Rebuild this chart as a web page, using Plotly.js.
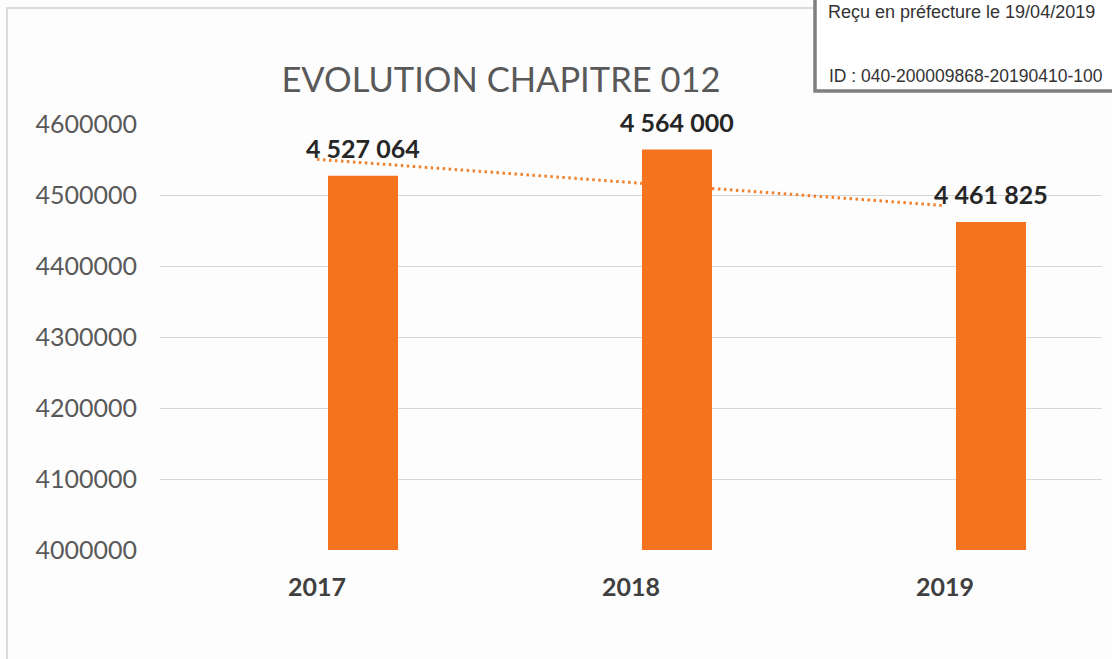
<!DOCTYPE html>
<html>
<head>
<meta charset="utf-8">
<script src="https://cdn.plot.ly/plotly-3.0.1.min.js"></script>
<style>
  html, body { margin: 0; padding: 0; background: #fdfdfd; }
  #chart { width: 1112px; height: 659px; }
</style>
</head>
<body>
<div id="chart"></div>
<script>
// ---- data ----
const years = ["2017", "2018", "2019"];
const amounts = [4527064, 4564000, 4461825];
const yTicks = [4000000, 4100000, 4200000, 4300000, 4400000, 4500000, 4600000];
const chartTitle = "EVOLUTION CHAPITRE 012";
const stampLine1 = "Reçu en préfecture le 19/04/2019";
const stampLine2 = "ID : 040-200009868-20190410-100";

// linear trend (least squares) computed from the amounts
const n = amounts.length;
const xs = amounts.map((_, i) => i);
const mx = xs.reduce((a, b) => a + b, 0) / n;
const my = amounts.reduce((a, b) => a + b, 0) / n;
let sxy = 0, sxx = 0;
xs.forEach((x, i) => { sxy += (x - mx) * (amounts[i] - my); sxx += (x - mx) * (x - mx); });
const slope = sxy / sxx;
const trend = xs.map(x => my + slope * (x - mx));

const fmt = v => String(v).replace(/\B(?=(\d{3})+(?!\d))/g, " ");

const orange = "#f4731f";
const baseFont = "Lato, 'Open Sans', sans-serif";
const yRange = [4000000, 4600000];

const trendTrace = {
  type: "scatter", mode: "lines",
  x: years, y: trend,
  xaxis: "x", yaxis: "y",
  line: { color: "#f0822e", width: 3, dash: "2.5px,3.5px" },
  hoverinfo: "skip", showlegend: false
};

const barTrace = {
  type: "bar",
  x: years, y: amounts,
  xaxis: "x2", yaxis: "y2",
  base: 0,
  offset: 0.035, width: 0.223,
  marker: { color: orange, line: { width: 0 } },
  showlegend: false, hoverinfo: "skip"
};

const labelAnns = years.map((yr, i) => ({
  x: i, y: amounts[i], xref: "x", yref: "y",
  text: fmt(amounts[i]),
  showarrow: false,
  xshift: 46, yshift: 28,
  font: { family: baseFont, size: 25, color: "#262626", weight: 700 }
}));

const pxX = px => (px - 160) / 942;
const pxY = py => (550 - py) / 426;

const layout = {
  width: 1112, height: 659,
  margin: { l: 160, r: 10, t: 124, b: 109 },
  paper_bgcolor: "#fdfdfd",
  plot_bgcolor: "rgba(0,0,0,0)",
  separators: ", ",
  showlegend: false,
  title: {
    text: chartTitle,
    xref: "container", yref: "container",
    x: 501 / 1112, y: 1 - 80 / 659,
    xanchor: "center", yanchor: "middle",
    font: { family: baseFont, size: 34.5, color: "#595959" }
  },
  xaxis: {
    type: "category", categoryarray: years,
    range: [-0.5, 2.5],
    showgrid: false, zeroline: false, showline: false,
    ticks: "", ticklabelstandoff: 20,
    tickfont: { family: baseFont, size: 25, color: "#404040", weight: 700 },
    fixedrange: true
  },
  xaxis2: {
    type: "category", categoryarray: years,
    range: [-0.5, 2.5],
    overlaying: "x", visible: false, fixedrange: true
  },
  yaxis: {
    range: yRange,
    tickvals: yTicks,
    ticktext: yTicks.map(String),
    showgrid: true, gridcolor: "#d6d6d6", gridwidth: 1,
    zeroline: false, showline: false,
    ticks: "", ticklabelstandoff: 22,
    tickfont: { family: baseFont, size: 25, color: "#595959" },
    fixedrange: true
  },
  yaxis2: {
    range: yRange, overlaying: "y", visible: false,
    showgrid: false, zeroline: false, fixedrange: true
  },
  annotations: labelAnns.concat([
    {
      xref: "paper", yref: "paper", x: pxX(827), y: pxY(1),
      xanchor: "left", yanchor: "top", showarrow: false, borderpad: 0,
      text: stampLine1,
      font: { family: "'Liberation Sans', Arial, sans-serif", size: 18, color: "#333333" }
    },
    {
      xref: "paper", yref: "paper", x: pxX(827), y: pxY(76.5),
      xanchor: "left", yanchor: "middle", showarrow: false,
      text: stampLine2,
      font: { family: "'Liberation Sans', Arial, sans-serif", size: 17.5, color: "#333333" }
    }
  ]),
  shapes: [
    {
      type: "rect", xref: "paper", yref: "paper", layer: "below",
      x0: pxX(7), x1: 1.2, y0: pxY(700), y1: pxY(8),
      line: { color: "#cfcfcf", width: 1.5 }, fillcolor: "rgba(0,0,0,0)"
    },
    {
      type: "rect", xref: "paper", yref: "paper", layer: "above",
      x0: pxX(815), x1: 1.3, y0: pxY(91), y1: pxY(-20),
      line: { color: "#7f7f7f", width: 3.5 }, fillcolor: "#ffffff"
    }
  ]
};

Plotly.newPlot("chart", [trendTrace, barTrace], layout, { displayModeBar: false, staticPlot: true });
</script>
</body>
</html>
